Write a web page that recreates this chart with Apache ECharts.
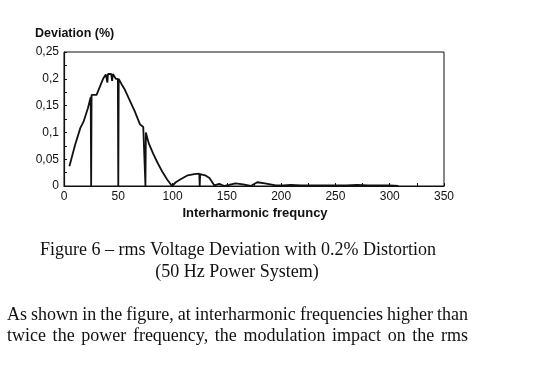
<!DOCTYPE html>
<html>
<head>
<meta charset="utf-8">
<script src="https://cdn.jsdelivr.net/npm/echarts@6/dist/echarts.min.js"></script>
<style>
html,body{margin:0;padding:0;background:#fff;}
#c{width:539px;height:383px;}
</style>
</head>
<body>
<div id="c"></div>
<script>
// Frequency (Hz) and rms deviation (%)
var freq = [5, 10, 15, 18, 22, 24.6, 25, 25.4, 30, 34, 36, 38.5, 39.5, 40, 40.5, 43.5, 44.3, 45, 46.8, 47.7, 49.6, 50, 50.4, 53, 56, 60, 65, 70, 73, 74.6, 75, 75.4, 78, 82, 86.5, 91, 95, 99.5, 103, 107, 114, 120, 124.6, 125, 125.4, 130, 134, 138.5, 143, 147.7, 152, 158, 165, 172, 178, 185, 195, 202, 209, 218, 230, 240, 250, 260, 270, 280, 290, 300, 308];
var deviation = [0.037, 0.075, 0.108, 0.12, 0.145, 0.166, 0, 0.17, 0.17, 0.19, 0.2, 0.208, 0.209, 0.193, 0.209, 0.209, 0.196, 0.209, 0.208, 0.2, 0.2, 0, 0.2, 0.19, 0.18, 0.162, 0.14, 0.115, 0.11, 0.107, 0, 0.1, 0.08, 0.061, 0.042, 0.025, 0.012, 0, 0.007, 0.012, 0.02, 0.022, 0.023, 0, 0.022, 0.02, 0.015, 0.001, 0.004, 0, 0.002, 0.005, 0.003, 0, 0.007, 0.005, 0.001, 0.001, 0.002, 0.001, 0.001, 0.001, 0.001, 0.001, 0.002, 0.001, 0.001, 0.001, 0];
var xTicks = [0, 50, 100, 150, 200, 250, 300, 350];
var yTicks = [0, 0.05, 0.1, 0.15, 0.2, 0.25];
var yTitle = 'Deviation (%)';
var xTitle = 'Interharmonic frequncy';
var captionLines = ['Figure 6 \u2013 rms Voltage Deviation with 0.2% Distortion', '(50 Hz Power System)'];
var paraLines = ['As shown in the figure, at interharmonic frequencies higher than', 'twice the power frequency, the modulation impact on the rms'];

var serif = '"Liberation Serif", "Times New Roman", serif';
var sans = '"Liberation Sans", Arial, sans-serif';

var chart = echarts.init(document.getElementById('c'), null, {renderer: 'canvas'});

var ctx = document.createElement('canvas').getContext('2d');
function justify(text, x0, x1, y, size) {
  ctx.font = size + 'px ' + serif;
  var words = text.split(' ');
  var widths = words.map(function (w) { return ctx.measureText(w).width; });
  var total = widths.reduce(function (a, b) { return a + b; }, 0);
  var gap = (x1 - x0 - total) / (words.length - 1);
  var els = [];
  var x = x0;
  words.forEach(function (w, i) {
    els.push({type: 'text', x: x, y: y, style: {text: w, font: size + 'px ' + serif, fill: '#111', textVerticalAlign: 'middle', textAlign: 'left'}});
    x += widths[i] + gap;
  });
  return els;
}

var data = freq.map(function (f, i) { return [f, deviation[i]]; });

var graphics = [
  {type: 'text', x: 35, y: 34, style: {text: yTitle, font: 'bold 12.5px ' + sans, fill: '#111', textVerticalAlign: 'middle'}},
  {type: 'text', x: 255, y: 213, style: {text: xTitle, font: 'bold 13px ' + sans, fill: '#111', textAlign: 'center', textVerticalAlign: 'middle'}},
  {type: 'text', x: 238, y: 250, style: {text: captionLines[0], font: '18px ' + serif, fill: '#111', textAlign: 'center', textVerticalAlign: 'middle'}},
  {type: 'text', x: 237, y: 272, style: {text: captionLines[1], font: '18px ' + serif, fill: '#111', textAlign: 'center', textVerticalAlign: 'middle'}}
].concat(justify(paraLines[0], 7, 468, 315, 18)).concat(justify(paraLines[1], 7, 468, 336, 18));

chart.setOption({
  backgroundColor: '#fff',
  animation: false,
  grid: {left: 64, right: 95, top: 52, bottom: 197, show: true, borderColor: '#111', borderWidth: 1, backgroundColor: 'transparent'},
  xAxis: {
    type: 'value', min: xTicks[0], max: xTicks[xTicks.length - 1], interval: 50,
    axisLine: {show: true, lineStyle: {color: '#111', width: 1.2}},
    axisTick: {show: true, inside: true, length: 3, lineStyle: {color: '#111'}},
    minorTick: {show: true, splitNumber: 2, length: 3, lineStyle: {color: '#111'}},
    splitLine: {show: false},
    axisLabel: {color: '#111', fontSize: 12, fontFamily: sans, margin: 5}
  },
  yAxis: {
    type: 'value', min: yTicks[0], max: yTicks[yTicks.length - 1], interval: 0.05,
    axisLine: {show: true, lineStyle: {color: '#111', width: 1.2}},
    axisTick: {show: true, inside: true, length: 3, lineStyle: {color: '#111'}},
    minorTick: {show: true, splitNumber: 2, length: 3, lineStyle: {color: '#111'}},
    splitLine: {show: false},
    axisLabel: {color: '#111', fontSize: 12, fontFamily: sans, margin: 5,
      formatter: function (v) { return String(+v.toFixed(2)).replace('.', ','); }}
  },
  series: [{
    type: 'line', data: data, symbol: 'none', smooth: false,
    lineStyle: {color: '#111', width: 1.8}
  }],
  graphic: graphics
});
</script>
</body>
</html>
